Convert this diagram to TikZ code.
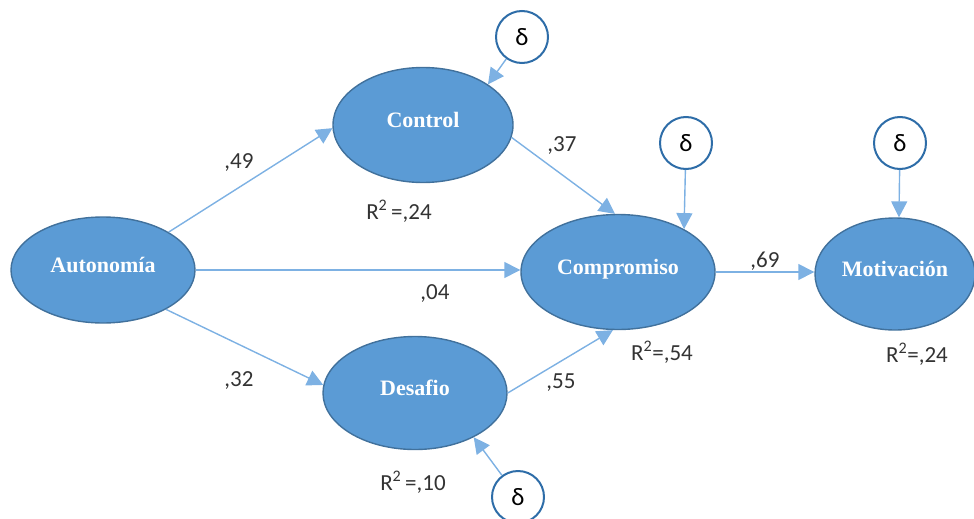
\documentclass[tikz,border=0pt]{standalone}
\usepackage{fontspec}
\setmainfont{Carlito}
\newfontfamily\nodefont{Liberation Serif}
\usetikzlibrary{shapes.geometric,arrows.meta}
\definecolor{efill}{HTML}{5B9BD5}
\definecolor{eline}{HTML}{41719C}
\definecolor{arr}{HTML}{7DB1E3}
\definecolor{dline}{HTML}{2E6DA8}
\tikzset{
  latent/.style={ellipse,fill=efill,draw=eline,line width=1.4pt,inner sep=0pt,
    font=\nodefont\bfseries\fontsize{22}{24}\selectfont,text=white},
  errc/.style={circle,draw=dline,fill=white,line width=2pt,minimum size=52pt,inner sep=0pt,
    font=\fontsize{25}{27}\selectfont},
  lbl/.style={font=\fontsize{23}{25}\selectfont,text=black!80,inner sep=0pt},
  path/.style={draw=arr,line width=1.4pt,-{Triangle[length=16pt,width=16pt]}}
}
\newcommand{\up}[1]{\raisebox{10pt}{#1}}
\begin{document}
\begin{tikzpicture}[x=1pt,y=-1pt]
\useasboundingbox (0,0) rectangle (974,519);
% latent variables
\node[latent,minimum width=184pt,minimum height=106pt] (auto) at (103,270) {\up{Autonomía}};
\node[latent,minimum width=180pt,minimum height=115pt] (ctrl) at (423,125) {\up{Control}};
\node[latent,minimum width=194pt,minimum height=115pt] (comp) at (618,272) {\up{Compromiso}};
\node[latent,minimum width=184pt,minimum height=113pt] (desa) at (415,393) {\up{Desafio}};
\node[latent,minimum width=160pt,minimum height=112pt] (moti) at (895,274) {\up{Motivación}};
% error terms
\node[errc] (d1) at (522,37) {δ};
\node[errc] (d2) at (686,143) {δ};
\node[errc] (d3) at (900,143) {δ};
\node[errc] (d4) at (518,497) {δ};
% paths
\draw[path] (auto.30) -- (ctrl.182);
\draw[path] (auto.east) -- (auto.east -| comp.west);
\draw[path] (auto.-32) -- (desa.175);
\draw[path] (ctrl.-8) -- (comp.93);
\draw[path] (desa.east) -- (comp.-95);
\draw[path] (comp.east) -- (comp.east -| moti.west);
\draw[path] (d1) -- (ctrl.32);
\draw[path] (d2) -- (comp.33);
\draw[path] (d3) -- (moti.86);
\draw[path] (d4) -- (desa.-37);
% labels
\node[lbl] (l1) at (239,163) {,49};
\node[lbl] (l2) at (562,146) {,37};
\node[lbl] (l3) at (435,294) {,04};
\node[lbl] (l4) at (239,381) {,32};
\node[lbl] (l5) at (561,383) {,55};
\node[lbl] (l6) at (765,261) {,69};
\node[lbl] (r1) at (399,211) {R\textsuperscript{2}\,=,24};
\node[lbl] (r2) at (662,352) {R\textsuperscript{2}=,54};
\node[lbl] (r3) at (413,482) {R\textsuperscript{2}\,=,10};
\node[lbl] (r4) at (917,354) {R\textsuperscript{2}=,24};
\end{tikzpicture}
\end{document}
